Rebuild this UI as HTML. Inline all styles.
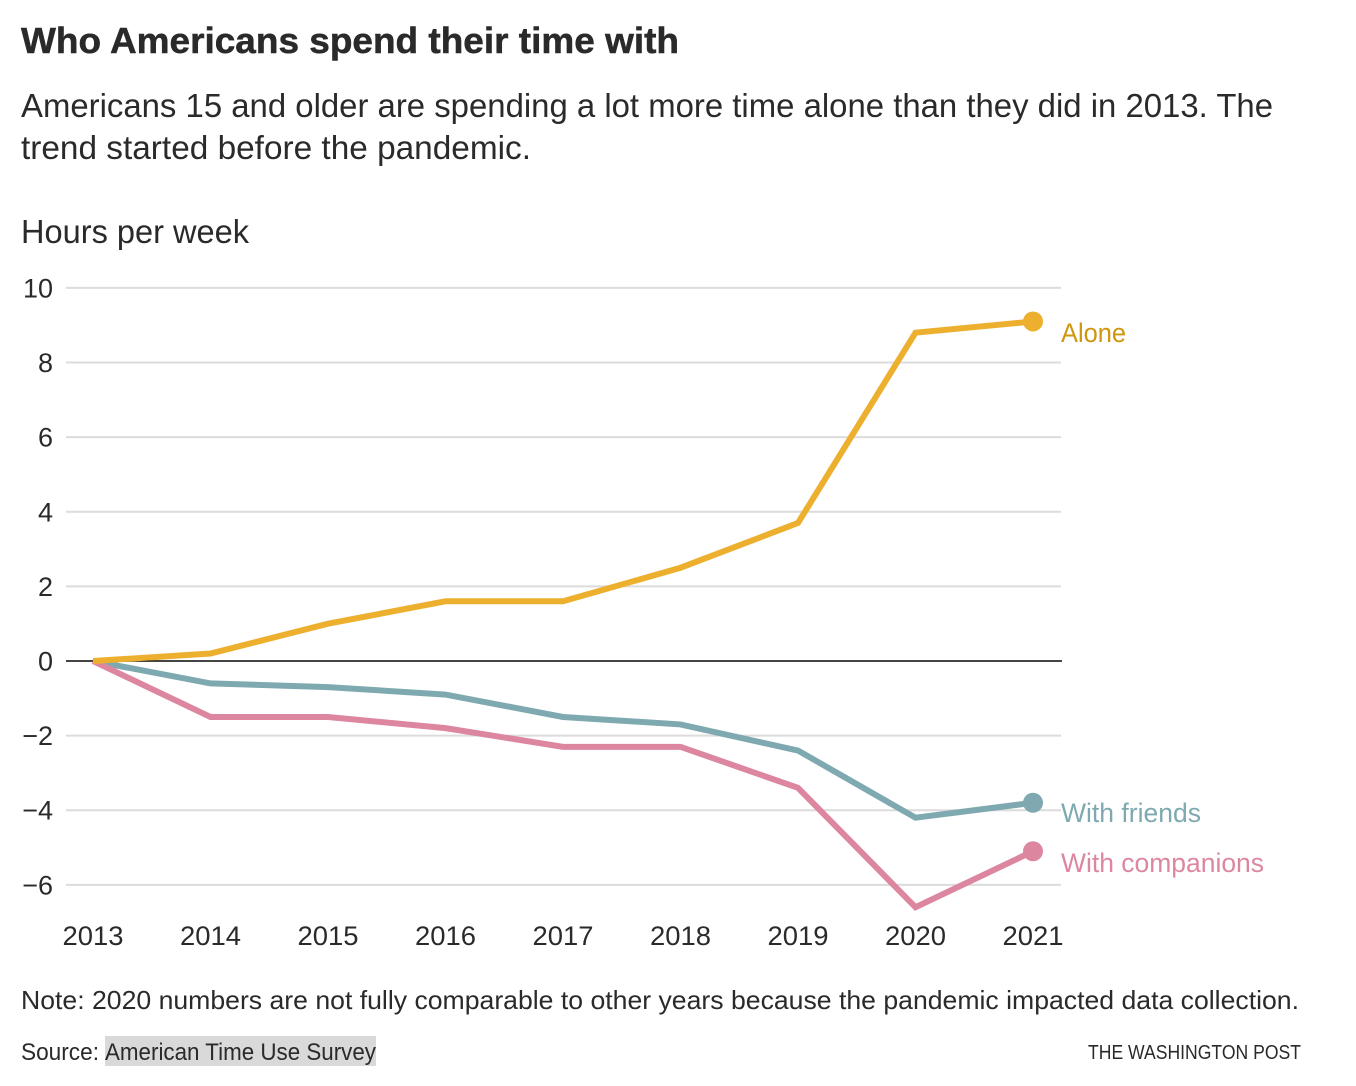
<!DOCTYPE html>
<html lang="en">
<head>
<meta charset="utf-8">
<title>Who Americans spend their time with</title>
<style>
html,body{margin:0;padding:0;background:#fff;}
body{width:1356px;height:1086px;overflow:hidden;}
svg{display:block;font-family:"Liberation Sans",Arial,sans-serif;}
text{fill:#2a2a2a;}
</style>
</head>
<body>
<svg id="chart" xmlns="http://www.w3.org/2000/svg" width="1356" height="1086" viewBox="0 0 1356 1086">
  <rect x="0" y="0" width="1356" height="1086" fill="#fff"/>
  <text x="21" y="53" font-size="36" font-weight="700" stroke="#2a2a2a" stroke-width="0.5" textLength="658" lengthAdjust="spacingAndGlyphs">Who Americans spend their time with</text>
  <text x="21" y="117" font-size="33" textLength="1252" lengthAdjust="spacingAndGlyphs">Americans 15 and older are spending a lot more time alone than they did in 2013. The</text>
  <text x="21" y="159" font-size="33" textLength="510" lengthAdjust="spacingAndGlyphs">trend started before the pandemic.</text>
  <text x="21" y="243" font-size="33" textLength="228" lengthAdjust="spacingAndGlyphs">Hours per week</text>
  <g id="grid"></g>
  <g id="yticks"></g>
  <g id="xticks"></g>
  <g id="series"></g>
  <text x="21" y="1009" font-size="26" textLength="1278" lengthAdjust="spacingAndGlyphs">Note: 2020 numbers are not fully comparable to other years because the pandemic impacted data collection.</text>
  <text x="21" y="1060" font-size="24" textLength="78" lengthAdjust="spacingAndGlyphs">Source:</text>
  <rect x="105" y="1036" width="271" height="30" fill="#d9d9d9"/>
  <text x="105" y="1060" font-size="24" textLength="271" lengthAdjust="spacingAndGlyphs">American Time Use Survey</text>
  <text x="1088" y="1059" font-size="20" textLength="213" lengthAdjust="spacingAndGlyphs">THE WASHINGTON POST</text>
</svg>
<script>
const years = [2013, 2014, 2015, 2016, 2017, 2018, 2019, 2020, 2021];
const yTicks = [10, 8, 6, 4, 2, 0, -2, -4, -6];
const alone = [0, 0.2, 1, 1.6, 1.6, 2.5, 3.7, 8.8, 9.1];
const withFriends = [0, -0.6, -0.7, -0.9, -1.5, -1.7, -2.4, -4.2, -3.8];
const withCompanions = [0, -1.5, -1.5, -1.8, -2.3, -2.3, -3.4, -6.6, -5.1];

const NS = 'http://www.w3.org/2000/svg';
function xScale(year) {
  return 93 + (year - 2013) * 117.5;
}
function yScale(value) {
  return 661 - value * 37.31;
}
function make(tag, parentId) {
  const el = document.createElementNS(NS, tag);
  document.getElementById(parentId).appendChild(el);
  return el;
}

yTicks.forEach(function (tick) {
  const line = make('line', 'grid');
  
  
  line.setAttribute('x1', 66);
  line.setAttribute('x2', 1061);
  line.setAttribute('y1', yScale(tick));
  line.setAttribute('y2', yScale(tick));
  line.setAttribute('stroke', '#dcdcdc');
  line.setAttribute('stroke-width', 2);

  const label = make('text', 'yticks');
  
  
  label.setAttribute('x', 53);
  label.setAttribute('y', yScale(tick) + 9.5);
  label.setAttribute('text-anchor', 'end');
  label.setAttribute('font-size', 27);
  label.textContent = tick < 0 ? '\u2212' + Math.abs(tick) : String(tick);
});

const zeroLine = make('line', 'grid');


zeroLine.setAttribute('x1', 66);
zeroLine.setAttribute('x2', 1062);
zeroLine.setAttribute('y1', yScale(0));
zeroLine.setAttribute('y2', yScale(0));
zeroLine.setAttribute('stroke', '#111');
zeroLine.setAttribute('stroke-width', 1.6);

years.forEach(function (year) {
  const label = make('text', 'xticks');
  
  
  label.setAttribute('x', xScale(year));
  label.setAttribute('y', 945);
  label.setAttribute('text-anchor', 'middle');
  label.setAttribute('font-size', 27);
  label.setAttribute('textLength', 61);
  label.setAttribute('lengthAdjust', 'spacingAndGlyphs');
  label.textContent = String(year);
});

function drawSeries(key, values, lineColor, textColor, labelText, labelOffset, labelWidth) {
  const points = values.map(function (v, i) {
    return xScale(years[i]) + ',' + yScale(v);
  }).join(' ');
  const lastValue = values[values.length - 1];
  const lastYear = years[years.length - 1];

  const line = make('polyline', 'series');
  
  
  line.setAttribute('points', points);
  line.setAttribute('fill', 'none');
  line.setAttribute('stroke', lineColor);
  line.setAttribute('stroke-width', 6);
  line.setAttribute('stroke-linejoin', 'miter');

  const dot = make('circle', 'series');
  
  
  dot.setAttribute('cx', xScale(lastYear));
  dot.setAttribute('cy', yScale(lastValue));
  dot.setAttribute('r', 10);
  dot.setAttribute('fill', lineColor);

  const label = make('text', 'series');
  
  
  label.setAttribute('x', xScale(lastYear) + 28);
  label.setAttribute('y', yScale(lastValue) + labelOffset);
  label.setAttribute('font-size', 27);
  label.setAttribute('textLength', labelWidth);
  label.setAttribute('lengthAdjust', 'spacingAndGlyphs');
  label.style.fill = textColor;
  label.textContent = labelText;
}

drawSeries('with-friends', withFriends, '#7fa9b0', '#7fa9b0', 'With friends', 19, 140);
drawSeries('with-companions', withCompanions, '#dc86a0', '#dc86a0', 'With companions', 20.5, 203);
drawSeries('alone', alone, '#edb02e', '#cf960e', 'Alone', 20.5, 65);
</script>
</body>
</html>
